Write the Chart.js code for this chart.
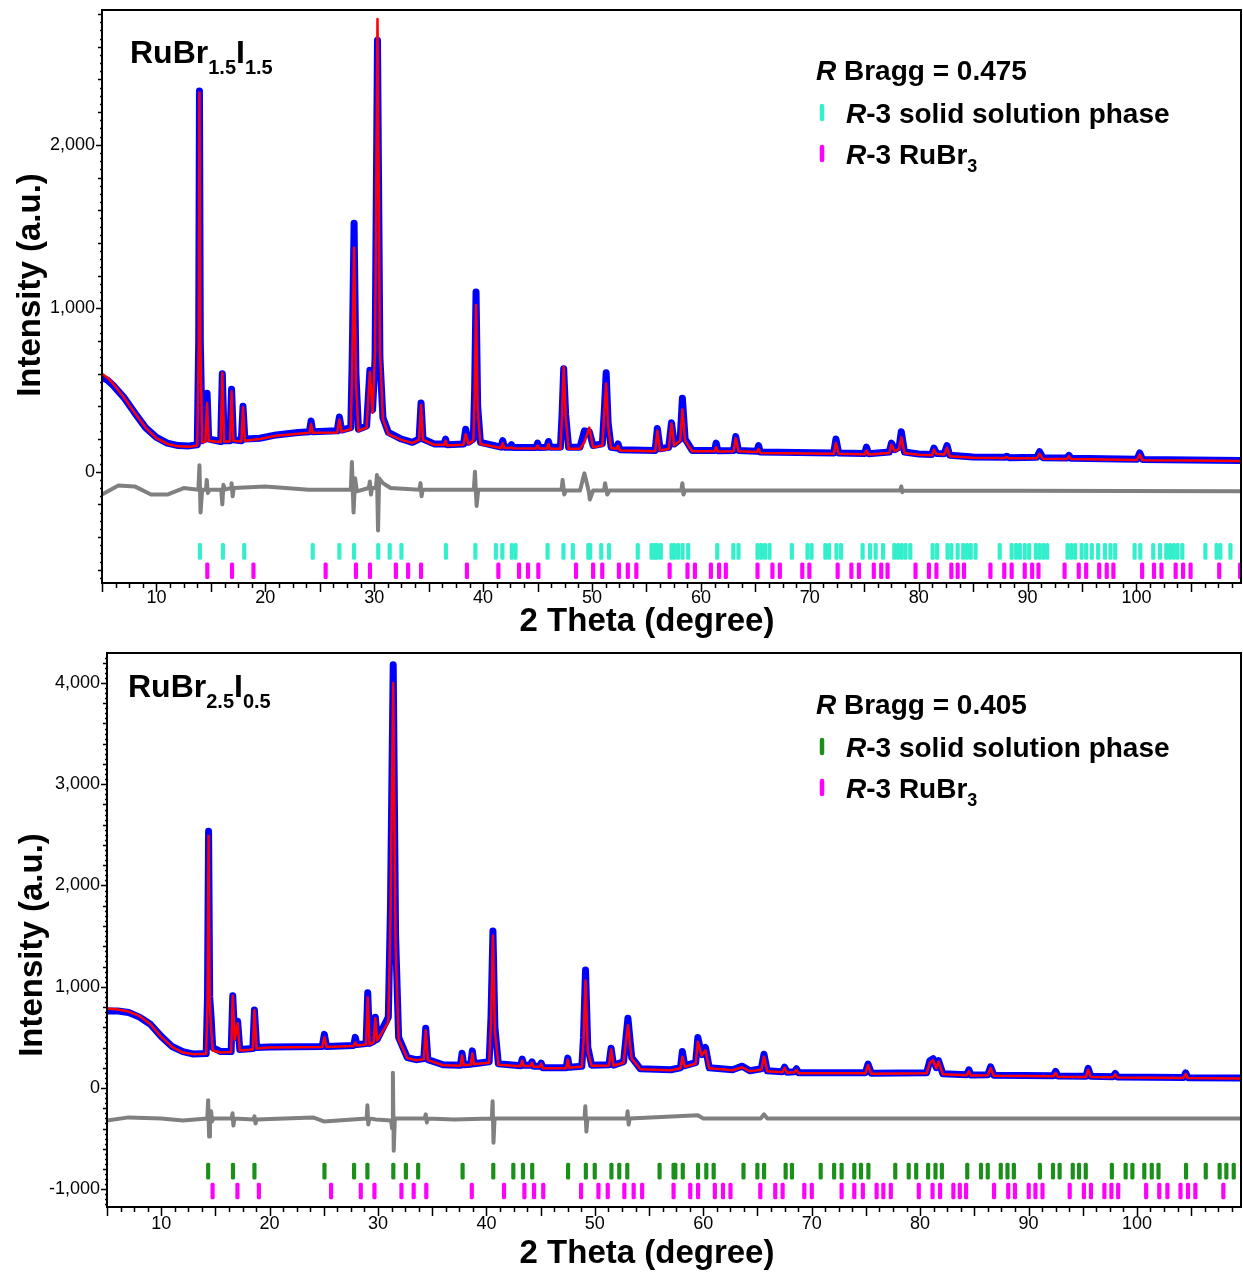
<!DOCTYPE html>
<html>
<head>
<meta charset="utf-8">
<script src="https://cdn.jsdelivr.net/npm/chart.js@4.4.0/dist/chart.umd.min.js"></script>
<style>
  html, body { margin: 0; padding: 0; background: #fff; overflow: hidden; }
  #wrap { position: relative; width: 1243px; height: 1274px; }
  .panel { position: absolute; left: 0; width: 1243px; }
  canvas { display: block; }
</style>
</head>
<body>
<div id="wrap">
  <div class="panel" style="top:0;height:640px"><canvas id="topChart"></canvas></div>
  <div class="panel" style="top:640px;height:634px"><canvas id="bottomChart"></canvas></div>
</div>
<script>
// ---------- top panel: RuBr1.5I1.5 ----------
const topTheta = [5, 5.5, 6, 7, 8, 9, 10, 11, 12, 13, 13.75, 13.88, 13.95, 14.03, 14.2, 14.5, 14.65, 14.8, 15.9, 16.05, 16.22, 16.75, 16.9, 17.07,
  17.8, 17.95, 18.12, 19.5, 21, 23, 24.05, 24.2, 24.35, 26.6, 26.8, 27, 27.85, 27.98, 28.15, 28.32, 28.55, 29.3, 29.6, 29.85, 30.08, 30.3,
  30.52, 30.8, 31.3, 32.5, 33.5, 34.12, 34.3, 34.48, 35.5, 36.42, 36.55, 36.68, 38.2, 38.4, 38.65, 39.1, 39.22, 39.35, 39.5, 39.75,
  41.65, 41.8, 41.95, 42.45, 42.6, 42.75, 44.85, 45, 45.15, 45.85, 46, 46.15, 47.1, 47.25, 47.4, 47.58, 47.85, 48.9, 49.3, 49.75, 50.1,
  50.95, 51.15, 51.3, 51.48, 51.75, 52.25, 52.4, 52.55, 55.8, 56, 56.25, 57.05, 57.3, 57.55, 58.1, 58.3, 58.55, 59.2, 61.25, 61.4, 61.55,
  63, 63.2, 63.45, 65.15, 65.3, 65.45, 72.2, 72.4, 72.65, 75.05, 75.2, 75.4, 77.3, 77.5, 77.8, 78.2, 78.4, 78.7, 80, 81.2, 81.4, 81.65,
  82.35, 82.6, 82.85, 85, 87.9, 88.1, 88.3, 90.85, 91.1, 91.4, 93.6, 93.8, 94, 100.05, 100.3, 100.55, 105, 109.6];
const topObs = [575, 560, 530, 455, 360, 270, 210, 175, 160, 158, 165, 800, 2330, 800, 190, 200, 480, 200, 185, 600, 190, 190, 505, 195,
  190, 400, 200, 205, 225, 240, 245, 310, 245, 250, 335, 255, 270, 700, 1520, 600, 260, 280, 620, 380, 700, 2640,
  700, 330, 240, 200, 180, 200, 420, 200, 170, 170, 200, 165, 170, 260, 180, 200, 500, 1100, 400, 180,
  150, 190, 150, 150, 165, 148, 148, 175, 148, 150, 185, 150, 150, 350, 630, 350, 150, 150, 250, 245, 160,
  170, 400, 605, 300, 150, 145, 170, 135, 130, 265, 140, 150, 300, 170, 200, 450, 200, 130, 130, 175, 128,
  130, 215, 130, 125, 160, 120, 115, 200, 115, 112, 150, 110, 120, 175, 135, 150, 245, 120, 108, 105, 145, 112,
  110, 160, 100, 90, 88, 95, 86, 88, 122, 86, 84, 100, 82, 76, 115, 75, 72, 68];
const topCalc = [600, 575, 540, 455, 360, 270, 205, 170, 155, 152, 160, 750, 2320, 800, 180, 185, 420, 190, 180, 605, 185, 185, 490, 190,
  185, 395, 190, 200, 220, 232, 238, 290, 238, 240, 320, 245, 260, 650, 1370, 550, 250, 270, 610, 360, 750, 2770,
  750, 320, 230, 195, 175, 195, 410, 195, 165, 165, 190, 160, 165, 230, 170, 190, 450, 1020, 380, 170,
  145, 175, 145, 145, 150, 143, 142, 160, 142, 142, 170, 140, 140, 350, 640, 340, 140, 140, 180, 270, 150,
  160, 380, 540, 280, 145, 140, 160, 130, 125, 250, 130, 140, 295, 160, 190, 380, 190, 125, 125, 150, 123,
  125, 205, 125, 120, 140, 115, 110, 175, 110, 107, 130, 105, 115, 165, 125, 140, 210, 115, 104, 100, 135, 108,
  105, 145, 95, 85, 84, 90, 82, 82, 110, 80, 78, 95, 77, 72, 105, 70, 68, 65];
const topDiffTheta = [5, 6.5, 8, 9.5, 11, 12.5, 13.85, 13.95, 14.05, 14.2, 14.55, 14.62, 14.72, 14.85, 15.95, 16.05, 16.15, 16.3, 16.85, 16.9,
  17, 17.1, 20, 24, 27.85, 27.95, 28.1, 28.25, 28.4, 29.5, 29.6, 29.7, 29.8, 30.15, 30.25, 30.35, 30.45, 30.8, 31.5, 34.15, 34.25,
  34.35, 34.45, 39.15, 39.25, 39.4, 39.55, 47.2, 47.3, 47.45, 47.6, 48.9, 49.3, 49.7, 49.8, 50.1, 51.1, 51.2, 51.4, 51.6, 58.2,
  58.3, 58.4, 58.55, 78.3, 78.4, 78.5, 78.6, 109.6];
const topDiff = [-140, -85, -90, -140, -140, -100, -110, 40, -250, -110, -110, -50, -130, -110, -110, -200, -80, -110, -100, -70,
  -150, -100, -90, -110, -110, 60, -250, -40, -120, -100, -60, -140, -100, -100, -20, -360, -40, -70, -100, -110, -70,
  -150, -110, -110, 0, -210, -110, -110, -50, -140, -115, -115, -10, -120, -170, -115, -115, -70, -140, -115, -115,
  -70, -140, -115, -115, -90, -125, -115, -120];
// reflection positions: R-3 solid solution phase and R-3 RuBr3
const topPhaseA = [13.99, 16.1, 18.06, 24.35, 26.8, 28.15, 30.37, 31.42, 32.5, 36.58, 39.29, 41.17, 41.77, 42.63, 42.97, 45.92, 47.38, 48.24,
  49.66, 49.83, 50.85, 51.56, 54.2, 55.47, 55.74, 55.98, 56.32, 57.3, 57.57, 57.91, 58.32, 58.83, 61.5, 62.98, 63.45, 65.2, 65.54, 65.88,
  66.3, 68.35, 69.79, 70.16, 71.43, 71.77, 72.45, 72.87, 74.85, 75.53, 76.05, 76.73, 77.76, 78.1, 78.44, 78.79, 79.23, 81.28, 81.69,
  82.65, 83.0, 83.58, 84.09, 84.43, 84.78, 85.22, 87.44, 88.54, 88.95, 89.29, 89.74, 90.15, 90.76, 91.11, 91.45, 91.79, 93.67, 94.01,
  94.36, 94.97, 95.38, 95.9, 96.48, 97.1, 97.61, 98.05, 99.83, 100.35, 101.54, 102.16, 102.74, 103.08, 103.43, 103.77, 104.21, 106.33,
  107.36, 107.7, 108.63];
const topPhaseB = [14.67, 16.94, 18.91, 25.54, 28.32, 29.61, 31.99, 33.11, 34.3, 38.51, 41.4, 43.3, 44.12, 45.07, 48.53, 50.1, 50.94, 52.47,
  53.29, 54.07, 57.13, 58.77, 59.45, 60.92, 61.67, 62.29, 65.2, 66.57, 67.25, 69.31, 69.96, 72.56, 73.82, 74.51, 75.88, 76.56, 77.14,
  79.71, 80.94, 81.63, 83.0, 83.58, 84.16, 86.59, 87.86, 88.54, 89.74, 90.42, 91.0, 93.4, 94.7, 95.38, 96.58, 97.27, 97.88, 100.52,
  101.61, 102.3, 103.6, 104.28, 104.97, 107.6, 109.52];

// ---------- bottom panel: RuBr2.5I0.5 ----------
const botTheta = [5, 6, 7, 8, 9, 10, 11, 12, 13, 14.15, 14.27, 14.37, 14.47, 14.6, 14.75, 15.5, 16.45, 16.6, 16.78, 17.05, 17.25, 18.45, 18.6,
  18.8, 20, 24.85, 25.05, 25.25, 27.75, 27.9, 28.05, 28.9, 29.05, 29.22, 29.6, 29.75, 29.92, 30.95, 31.15, 31.4, 31.62, 31.9, 32.7, 33.5,
  34.22, 34.4, 34.6, 36, 37.6, 37.75, 37.9, 38.55, 38.7, 38.85, 40.25, 40.42, 40.6, 40.78, 41.1, 43.15, 43.3, 43.45, 44.05, 44.2, 44.35,
  44.9, 45.05, 45.2, 47.35, 47.5, 47.65, 48.8, 48.95, 49.14, 49.35, 49.7, 51.3, 51.5, 51.72, 52.65, 53.05, 53.4, 54.2, 57, 57.9, 58.07,
  58.3, 59.3, 59.5, 59.85, 60.2, 60.55, 62.7, 63.6, 64.3, 65.35, 65.6, 65.9, 67.3, 67.5, 67.75, 68.4, 68.6, 68.8, 72, 74.95, 75.2, 75.5,
  80.6, 80.9, 81.2, 81.5, 81.7, 82.1, 84.3, 84.5, 84.7, 86.25, 86.5, 86.8, 92.3, 92.5, 92.7, 95.3, 95.5, 95.75, 97.8, 98, 98.2, 104.3,
  104.5, 104.7, 109.6];
const botObs = [760, 760, 745, 700, 630, 510, 410, 360, 335, 340, 900, 2535, 900, 700, 400, 360, 360, 910, 500, 660, 380, 390, 770,
  400, 405, 410, 530, 410, 420, 500, 430, 440, 940, 440, 460, 700, 480, 700, 1800, 4180, 1500, 500, 300, 280,
  290, 590, 280, 230, 225, 344, 230, 235, 367, 240, 260, 700, 1550, 600, 240, 220, 285, 225, 225, 259, 215,
  215, 246, 200, 200, 295, 205, 215, 500, 1165, 400, 226, 230, 393, 226, 260, 690, 300, 190, 180, 200, 360,
  220, 250, 500, 330, 400, 200, 180, 216, 170, 190, 334, 170, 160, 206, 155, 160, 190, 150, 150, 150, 236, 145,
  150, 270, 290, 200, 270, 140, 130, 180, 128, 130, 210, 125, 120, 165, 118, 115, 195, 115, 112, 145, 110, 105,
  150, 102, 100];
const botCalc = [786, 775, 755, 710, 630, 505, 406, 350, 334, 338, 850, 2490, 850, 600, 370, 350, 355, 910, 480, 640, 370, 380, 770,
  390, 400, 405, 500, 405, 415, 450, 420, 430, 897, 430, 450, 690, 470, 650, 1700, 4000, 1400, 480, 295, 275,
  285, 570, 275, 225, 220, 320, 225, 230, 340, 235, 250, 650, 1504, 560, 230, 215, 270, 218, 218, 250, 210,
  210, 240, 195, 195, 280, 200, 210, 450, 1061, 360, 220, 222, 380, 220, 250, 619, 290, 185, 175, 195, 308,
  210, 240, 458, 320, 373, 195, 175, 205, 165, 180, 308, 165, 155, 200, 150, 155, 180, 145, 145, 145, 225, 140,
  145, 250, 275, 195, 260, 135, 125, 165, 123, 125, 195, 120, 115, 150, 112, 110, 180, 110, 107, 135, 105, 100,
  140, 98, 95];
const botDiffTheta = [5, 7, 10, 12, 14.25, 14.33, 14.42, 14.5, 14.6, 14.7, 14.8, 16.5, 16.58, 16.66, 16.75, 18.5, 18.6, 18.7, 18.8, 24, 25,
  28.95, 29.02, 29.1, 29.2, 29.8, 31.2, 31.3, 31.37, 31.45, 31.55, 34.3, 34.4, 34.5, 34.6, 37, 40.5, 40.57, 40.65, 40.75, 44, 49.05,
  49.12, 49.22, 49.32, 52.95, 53.02, 53.12, 53.22, 59.5, 60, 65.3, 65.6, 65.9, 70, 109.6];
const botDiff = [-320, -290, -300, -320, -300, -120, -480, -290, -230, -330, -300, -300, -250, -370, -300, -310, -280, -350, -310, -290, -330,
  -300, -170, -360, -300, -310, -320, -400, 150, -620, -300, -300, -260, -340, -300, -310, -300, -130, -540, -300, -300, -300,
  -180, -430, -300, -300, -230, -360, -300, -270, -300, -300, -260, -300, -300, -300];
const botPhaseA = [14.33, 16.62, 18.6, 25.06, 27.79, 29.02, 31.41, 32.57, 33.7, 37.8, 40.63, 42.48, 43.37, 44.22, 47.53, 49.17, 49.99, 51.53,
  52.25, 52.99, 55.97, 57.26, 57.42, 58.11, 59.52, 60.28, 60.96, 63.71, 64.99, 65.61, 67.6, 68.18, 70.83, 72.07, 72.76, 73.93, 74.55,
  75.23, 77.71, 78.95, 79.64, 80.74, 81.42, 82.01, 84.35, 85.62, 86.24, 87.44, 88.06, 88.65, 91.05, 92.26, 92.87, 94.08, 94.66, 95.28,
  97.69, 98.96, 99.58, 100.68, 101.37, 101.99, 104.53, 106.35, 107.63, 108.25, 108.93];
const botPhaseB = [14.74, 17.03, 19.01, 25.67, 28.41, 29.67, 32.16, 33.29, 34.45, 38.65, 41.62, 43.5, 44.39, 45.24, 48.73, 50.33, 51.19, 52.72,
  53.58, 54.36, 57.26, 58.8, 59.52, 61.07, 61.82, 62.51, 65.26, 66.64, 67.32, 69.32, 70.01, 72.76, 73.93, 74.72, 75.99, 76.61, 77.3,
  79.88, 81.15, 81.84, 83.07, 83.66, 84.24, 86.82, 88.13, 88.75, 90.02, 90.64, 91.29, 93.8, 95.11, 95.76, 97.0, 97.65, 98.27, 100.85,
  102.06, 102.81, 104.02, 104.71, 105.39, 107.97];

const FONT = "'Liberation Sans', Arial, sans-serif";
Chart.defaults.font.family = FONT;
Chart.defaults.color = '#000';

function stepTicks(min, max, step) {
  const out = [];
  for (let v = Math.ceil(min / step - 1e-9) * step; v <= max + 1e-9; v += step) {
    out.push({ value: Math.round(v * 1000) / 1000 });
  }
  return out;
}

// draws a row of text pieces (size, italic, baseline shift)
function drawRuns(ctx, x, y, runs) {
  runs.forEach(r => {
    ctx.font = (r.italic ? 'italic ' : '') + 'bold ' + r.size + 'px ' + FONT;
    ctx.fillText(r.t, x, y + (r.dy || 0));
    x += ctx.measureText(r.t).width;
  });
}

function noPad(s) {
  s.paddingTop = 0; s.paddingBottom = 0; s.paddingLeft = 0; s.paddingRight = 0;
}

const framePlugin = {
  id: 'frame',
  afterDraw(chart) {
    const { ctx, chartArea: a, scales: { x, y } } = chart;
    ctx.save();
    ctx.strokeStyle = '#000';
    ctx.lineWidth = 1.5;
    ctx.beginPath();
    x.ticks.forEach(t => {
      const px = Math.round(x.getPixelForValue(t.value)) + 0.5;
      const len = t.value % 5 === 0 ? 9 : 5;
      ctx.moveTo(px, a.bottom); ctx.lineTo(px, a.bottom + len);
    });
    y.ticks.forEach(t => {
      const py = Math.round(y.getPixelForValue(t.value)) + 0.5;
      const len = t.value % 1000 === 0 ? 6 : (t.value % 200 === 0 ? 4 : 2);
      ctx.moveTo(a.left, py); ctx.lineTo(a.left - len, py);
    });
    ctx.stroke();
    ctx.lineWidth = 2;
    ctx.strokeRect(a.left, a.top, a.right - a.left, a.bottom - a.top);
    ctx.restore();
  }
};

const textPlugin = {
  id: 'panelText',
  afterDraw(chart, args, o) {
    const ctx = chart.ctx;
    ctx.save();
    ctx.fillStyle = '#000';
    ctx.textBaseline = 'alphabetic';
    ctx.textAlign = 'left';
    drawRuns(ctx, o.formulaX, o.formulaY, o.formula);
    drawRuns(ctx, 816, o.legendY, [{ t: 'R', size: 28, italic: true }, { t: ' Bragg = ' + o.bragg, size: 28 }]);
    drawRuns(ctx, 846, o.legendY + 43, [{ t: 'R', size: 28, italic: true }, { t: '-3 solid solution phase', size: 28 }]);
    drawRuns(ctx, 846, o.legendY + 84, [{ t: 'R', size: 28, italic: true }, { t: '-3 RuBr', size: 28 }, { t: '3', size: 18, dy: 8 }]);
    ctx.lineCap = 'round';
    ctx.lineWidth = 4.5;
    [[o.colorA, 43], [o.colorB, 84]].forEach(([c, dy]) => {
      ctx.strokeStyle = c;
      ctx.beginPath();
      ctx.moveTo(822, o.legendY + dy - 17);
      ctx.lineTo(822, o.legendY + dy - 4);
      ctx.stroke();
    });
    ctx.font = 'bold 33px ' + FONT;
    ctx.textAlign = 'center';
    ctx.textBaseline = 'middle';
    ctx.fillText('2 Theta (degree)', 647, o.xTitleY);
    ctx.translate(o.yTitleX, o.yTitleY);
    ctx.rotate(-Math.PI / 2);
    ctx.fillText('Intensity (a.u.)', 0, 0);
    ctx.restore();
  }
};

function makePanel(id, p) {
  const line = (xs, ys) => xs.map((x, i) => ({ x, y: ys[i] }));
  const row = (xs, band) => xs.map(x => ({ x, y: band }));
  const curve = { type: 'line', pointRadius: 0, tension: 0, fill: false, borderJoinStyle: 'round', borderCapStyle: 'round' };
  // reflection marks: short floating bars
  const marks = { type: 'bar', barThickness: 3.5, grouped: false, borderRadius: 1.5, borderSkipped: false, order: 0 };
  return new Chart(document.getElementById(id), {
    type: 'line',
    data: {
      datasets: [
        { ...curve, label: 'Calculated', data: line(p.theta, p.calc), borderColor: '#ff0000', borderWidth: 2.5, order: 1 },
        { ...curve, label: 'Observed', data: line(p.theta, p.obs), borderColor: '#0000ff', borderWidth: 7, order: 2 },
        { ...curve, label: 'Difference', data: line(p.diffTheta, p.diff), borderColor: '#808080', borderWidth: 4, order: 3 },
        { ...marks, label: 'R-3 solid solution phase', data: row(p.phaseA, p.bandA), backgroundColor: p.colorA },
        { ...marks, label: 'R-3 RuBr3', data: row(p.phaseB, p.bandB), backgroundColor: '#ff00ff' }
      ]
    },
    options: {
      responsive: true,
      maintainAspectRatio: false,
      animation: false,
      events: [],
      layout: { padding: { top: p.padTop, right: 2, left: 0, bottom: 0 } },
      scales: {
        x: {
          type: 'linear', min: 5, max: 109.6, offset: false,
          afterBuildTicks: s => { s.ticks = stepTicks(5, 109.6, 1.25); },
          afterFit: s => { s.height = p.xAxisHeight; noPad(s); },
          grid: { display: false, drawTicks: false, offset: false },
          border: { display: false },
          ticks: { autoSkip: false, maxRotation: 0, padding: p.xLabelPad, font: { size: 18 },
                   callback: v => (v % 10 === 0 ? String(v) : '') }
        },
        y: {
          type: 'linear', min: p.yMin, max: p.yMax,
          afterBuildTicks: s => { s.ticks = stepTicks(p.yMin, p.yMax, 50); },
          afterFit: s => { s.width = p.yAxisWidth; noPad(s); },
          grid: { display: false, drawTicks: false },
          border: { display: false },
          ticks: { autoSkip: false, padding: 7, font: { size: 18 },
                   callback: v => (v % 1000 === 0 && v >= p.yLabelMin ? v.toLocaleString('en-US') : '') }
        }
      },
      plugins: {
        legend: { display: false },
        tooltip: { enabled: false },
        panelText: p.text
      }
    },
    plugins: [framePlugin, textPlugin]
  });
}

makePanel('topChart', {
  theta: topTheta, obs: topObs, calc: topCalc, diffTheta: topDiffTheta, diff: topDiff,
  phaseA: topPhaseA, phaseB: topPhaseB, bandA: [-536, -438], bandB: [-655, -557], colorA: '#33efcc',
  yMin: -681, yMax: 2825, yLabelMin: 0, padTop: 10, xAxisHeight: 57, yAxisWidth: 102, xLabelPad: 4,
  text: {
    formula: [{ t: 'RuBr', size: 32 }, { t: '1.5', size: 20, dy: 11 }, { t: 'I', size: 32 }, { t: '1.5', size: 20, dy: 11 }],
    formulaX: 130, formulaY: 63, legendY: 80, bragg: '0.475', colorA: '#33efcc', colorB: '#ff00ff',
    xTitleY: 622, yTitleX: 31, yTitleY: 285
  }
});

makePanel('bottomChart', {
  theta: botTheta, obs: botObs, calc: botCalc, diffTheta: botDiffTheta, diff: botDiff,
  phaseA: botPhaseA, phaseB: botPhaseB, bandA: [-899, -741], bandB: [-1096, -938], colorA: '#1a8f1a',
  yMin: -1175, yMax: 4296, yLabelMin: -1000, padTop: 13, xAxisHeight: 67, yAxisWidth: 107, xLabelPad: 6,
  text: {
    formula: [{ t: 'RuBr', size: 32 }, { t: '2.5', size: 20, dy: 11 }, { t: 'I', size: 32 }, { t: '0.5', size: 20, dy: 11 }],
    formulaX: 128, formulaY: 57, legendY: 74, bragg: '0.405', colorA: '#1a8f1a', colorB: '#ff00ff',
    xTitleY: 614, yTitleX: 33, yTitleY: 305
  }
});
</script>
</body>
</html>
